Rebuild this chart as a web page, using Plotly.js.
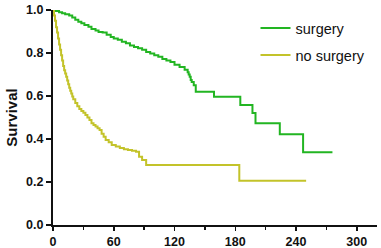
<!DOCTYPE html>
<html>
<head>
<meta charset="utf-8">
<script src="https://cdn.plot.ly/plotly-3.0.1.min.js"></script>
<style>html,body{margin:0;padding:0;background:#fff;}#chart{width:381px;height:248px;}</style>
</head>
<body>
<div id="chart"></div>
<script>
// Survival curves (Kaplan-Meier style, step after each event)
const surgeryTime = [0, 3, 6, 9, 12, 16, 19, 22, 25, 28, 31, 35, 38, 42, 45, 49, 53, 57, 60, 64, 68, 72, 76, 80, 84, 88, 92, 96, 100, 104, 108, 112, 116, 120, 125, 130, 133, 134, 135, 136, 137, 139, 141, 159, 185, 197, 200, 224, 247, 276];
const surgerySurv = [1.0, 0.995, 0.99, 0.985, 0.98, 0.975, 0.965, 0.955, 0.945, 0.938, 0.93, 0.922, 0.912, 0.905, 0.898, 0.895, 0.885, 0.875, 0.868, 0.862, 0.852, 0.845, 0.835, 0.828, 0.822, 0.815, 0.805, 0.798, 0.79, 0.782, 0.772, 0.765, 0.758, 0.745, 0.735, 0.722, 0.71, 0.70, 0.69, 0.675, 0.665, 0.65, 0.62, 0.597, 0.558, 0.521, 0.473, 0.422, 0.338, 0.338];

const noSurgeryTime = [0, 1, 2, 3, 4, 5, 6, 7, 8, 9, 10, 11, 12, 13, 14, 15, 16, 17, 18, 19, 20, 22, 24, 26, 28, 30, 32, 34, 36, 38, 40, 42, 44, 46, 48, 50, 52, 55, 58, 62, 66, 70, 74, 78, 82, 85, 88, 92, 184, 250];
const noSurgerySurv = [1.0, 0.975, 0.95, 0.92, 0.895, 0.868, 0.84, 0.815, 0.79, 0.765, 0.74, 0.72, 0.705, 0.69, 0.672, 0.655, 0.638, 0.625, 0.612, 0.598, 0.585, 0.568, 0.552, 0.54, 0.53, 0.522, 0.512, 0.5, 0.488, 0.473, 0.465, 0.458, 0.45, 0.442, 0.425, 0.41, 0.395, 0.385, 0.372, 0.365, 0.358, 0.352, 0.349, 0.345, 0.341, 0.318, 0.302, 0.279, 0.206, 0.206];

const seriesNames = ['surgery', 'no surgery'];
const xTickVals = [0, 60, 120, 180, 240, 300];
const yTickVals = [0.0, 0.2, 0.4, 0.6, 0.8, 1.0];
const yTickText = ['0.0', '0.2', '0.4', '0.6', '0.8', '1.0'];

const tickFont = {family: 'Liberation Sans, Arial, sans-serif', size: 12.5, color: '#111', weight: 'bold'};

const traces = [
  {x: surgeryTime, y: surgerySurv, name: seriesNames[0], type: 'scatter', mode: 'lines',
   line: {shape: 'hv', color: '#22b522', width: 2}, cliponaxis: false, legendgroup: 'a'},
  {x: noSurgeryTime, y: noSurgerySurv, name: seriesNames[1], type: 'scatter', mode: 'lines',
   line: {shape: 'hv', color: '#c3c32a', width: 2}, cliponaxis: false, legendgroup: 'b'}
];

const layout = {
  width: 381, height: 248,
  margin: {l: 53, r: 4, t: 10, b: 23},
  paper_bgcolor: '#fff', plot_bgcolor: '#fff',
  showlegend: true,
  legend: {x: 0.625, y: 0.99, xanchor: 'left', yanchor: 'top', bgcolor: 'rgba(0,0,0,0)',
           font: {family: 'Liberation Sans, Arial, sans-serif', size: 14.5, color: '#111'},
           traceorder: 'grouped', tracegroupgap: 5, itemwidth: 30},
  xaxis: {range: [0, 320], tickvals: xTickVals, ticktext: xTickVals.map(String),
          showgrid: false, zeroline: false, showline: true, linecolor: '#111', linewidth: 2,
          ticks: 'outside', ticklen: 4, tickwidth: 1.5, tickcolor: '#111', tickfont: tickFont,
          minor: {dtick: 30, tick0: 0, ticks: 'outside', ticklen: 3, tickwidth: 1.5, tickcolor: '#111', showgrid: false},
          fixedrange: true},
  yaxis: {range: [0, 1], tickvals: yTickVals, ticktext: yTickText,
          showgrid: false, zeroline: false, showline: true, linecolor: '#111', linewidth: 2,
          ticks: 'outside', ticklen: 5, tickwidth: 1.5, tickcolor: '#111', tickfont: tickFont,
          title: {text: 'Survival', font: {family: 'Liberation Sans, Arial, sans-serif', size: 15, color: '#111', weight: 'bold'}, standoff: 5},
          fixedrange: true}
};

Plotly.newPlot('chart', traces, layout, {displayModeBar: false, staticPlot: true});
</script>
</body>
</html>
